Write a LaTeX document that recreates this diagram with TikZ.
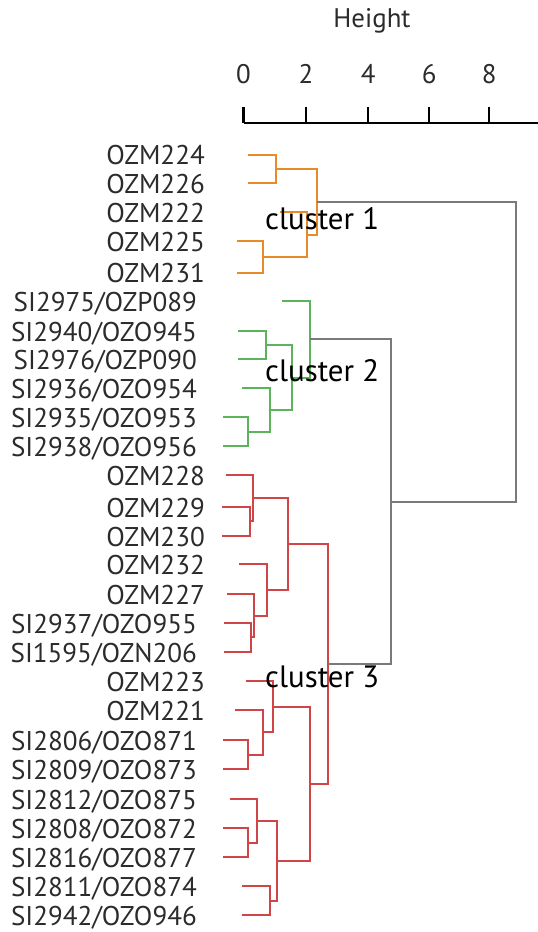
\documentclass[tikz,border=0pt]{standalone}
\usepackage{fontspec}
\setmainfont{PT Sans}
\definecolor{txtgray}{HTML}{2B2B2B}
\definecolor{c1col}{HTML}{E8892A}
\definecolor{c2col}{HTML}{5BB35B}
\definecolor{c3col}{HTML}{CF4548}
\definecolor{rootcol}{HTML}{7A7A7A}
\begin{document}
\begin{tikzpicture}[x=1bp,y=-1bp,
  leaflabel/.style={anchor=base east,inner sep=0pt,text=txtgray,font=\fontsize{27.2}{32}\selectfont},
  ticklabel/.style={anchor=base,inner sep=0pt,text=txtgray,font=\fontsize{27}{32}\selectfont},
  clusterlabel/.style={anchor=base west,inner sep=0pt,text=black,font=\fontsize{31}{36}\selectfont},
  branch/.style={line width=2bp,line join=miter},
  orangeb/.style={branch,c1col},
  greenb/.style={branch,c2col},
  redb/.style={branch,c3col},
  grayb/.style={branch,rootcol},
  axisline/.style={line width=2.2bp,black}]
\useasboundingbox (0,0) rectangle (538,932);

% height axis
\node[ticklabel] (axtitle) at (372,27.5) {Height};
\coordinate (ax0) at (243.5,123);
\coordinate (axend) at (538,123);
\draw[axisline] (ax0) -- (axend);
\foreach \v/\x in {0/243.5,2/306,4/368.3,6/429.3,8/489.3} {
  \coordinate (tk\v) at (\x,106.5);
  \draw[axisline] (tk\v) -- (\x,123);
  \node[ticklabel] (tl\v) at (\x,83.3) {\v};
}

% leaves: index / y / start x / label right edge / label
\foreach \n/\y/\x/\lx/\t in {
  1/154.5/247.7/205/OZM224,
  2/183/247.7/205/OZM226,
  3/212/280/205/OZM222,
  4/241.3/236.7/205/OZM225,
  5/272.5/236.7/205/OZM231,
  6/301/282.3/197/SI2975\slash OZP089,
  7/330.7/238.3/197/SI2940\slash OZO945,
  8/359.3/238.3/197/SI2976\slash OZP090,
  9/388.3/242.3/197/SI2936\slash OZO954,
  10/417.3/222.7/197/SI2935\slash OZO953,
  11/446/222.7/197/SI2938\slash OZO956,
  12/475/226/205/OZM228,
  13/506.7/222.3/205/OZM229,
  14/535.7/222.3/205/OZM230,
  15/564.3/239/205/OZM232,
  16/594/227.3/205/OZM227,
  17/622.7/224/197/SI2937\slash OZO955,
  18/651.7/224/197/SI1595\slash OZN206,
  19/680.7/245.7/205/OZM223,
  20/710/235/205/OZM221,
  21/740/222.7/197/SI2806\slash OZO871,
  22/769.3/222.7/197/SI2809\slash OZO873,
  23/799/230/197/SI2812\slash OZO875,
  24/828.3/222.7/197/SI2808\slash OZO872,
  25/856.7/222.7/197/SI2816\slash OZO877,
  26/886/242.3/197/SI2811\slash OZO874,
  27/915/242.3/197/SI2942\slash OZO946} {
  \coordinate (l\n) at (\x,\y);
  \node[leaflabel] (t\n) at (\lx,\y+10.3) {\t};
}

% cluster 1
\coordinate (a1) at (276,168.7);
\coordinate (a2) at (262.7,256.9);
\coordinate (a3) at (306.7,234.5);
\coordinate (a4) at (317.3,201.6);
\draw[orangeb] (l1) -| (a1) |- (l2);
\draw[orangeb] (l4) -| (a2) |- (l5);
\draw[orangeb] (l3) -| (a3) |- (a2);
\draw[orangeb] (a1) -| (a4) |- (a3);

% cluster 2
\coordinate (b1) at (266,345);
\coordinate (b2) at (248.3,431.7);
\coordinate (b3) at (270,410);
\coordinate (b4) at (291.7,377.5);
\coordinate (b5) at (310,339.2);
\draw[greenb] (l7) -| (b1) |- (l8);
\draw[greenb] (l10) -| (b2) |- (l11);
\draw[greenb] (l9) -| (b3) |- (b2);
\draw[greenb] (b1) -| (b4) |- (b3);
\draw[greenb] (l6) -| (b5) |- (b4);

% cluster 3
\coordinate (c1) at (250,521.2);
\coordinate (c2) at (253.3,498.1);
\coordinate (c3) at (250.7,637.2);
\coordinate (c4) at (254,615.6);
\coordinate (c5) at (266.7,590);
\coordinate (c6) at (288.3,544);
\coordinate (c7) at (248.3,754.7);
\coordinate (c8) at (262.7,732.3);
\coordinate (c9) at (273.3,706.5);
\coordinate (c10) at (248.3,842.5);
\coordinate (c11) at (257.3,820.7);
\coordinate (c12) at (270,900.5);
\coordinate (c13) at (277.3,860.6);
\coordinate (c14) at (310,783.6);
\coordinate (c15) at (327.7,663.8);
\draw[redb] (l13) -| (c1) |- (l14);
\draw[redb] (l12) -| (c2) |- (c1);
\draw[redb] (l17) -| (c3) |- (l18);
\draw[redb] (l16) -| (c4) |- (c3);
\draw[redb] (l15) -| (c5) |- (c4);
\draw[redb] (c2) -| (c6) |- (c5);
\draw[redb] (l21) -| (c7) |- (l22);
\draw[redb] (l20) -| (c8) |- (c7);
\draw[redb] (l19) -| (c9) |- (c8);
\draw[redb] (l24) -| (c10) |- (l25);
\draw[redb] (l23) -| (c11) |- (c10);
\draw[redb] (l26) -| (c12) |- (l27);
\draw[redb] (c11) -| (c13) |- (c12);
\draw[redb] (c9) -| (c14) |- (c13);
\draw[redb] (c6) -| (c15) |- (c14);

% joins between clusters
\coordinate (g1) at (391,501.5);
\coordinate (g2) at (516,351.5);
\draw[grayb] (b5) -| (g1) |- (c15);
\draw[grayb] (a4) -| (g2) |- (g1);

% cluster labels
\node[clusterlabel] (k1) at (265,229) {cluster 1};
\node[clusterlabel] (k2) at (265,381.7) {cluster 2};
\node[clusterlabel] (k3) at (265,687.7) {cluster 3};
\end{tikzpicture}
\end{document}
